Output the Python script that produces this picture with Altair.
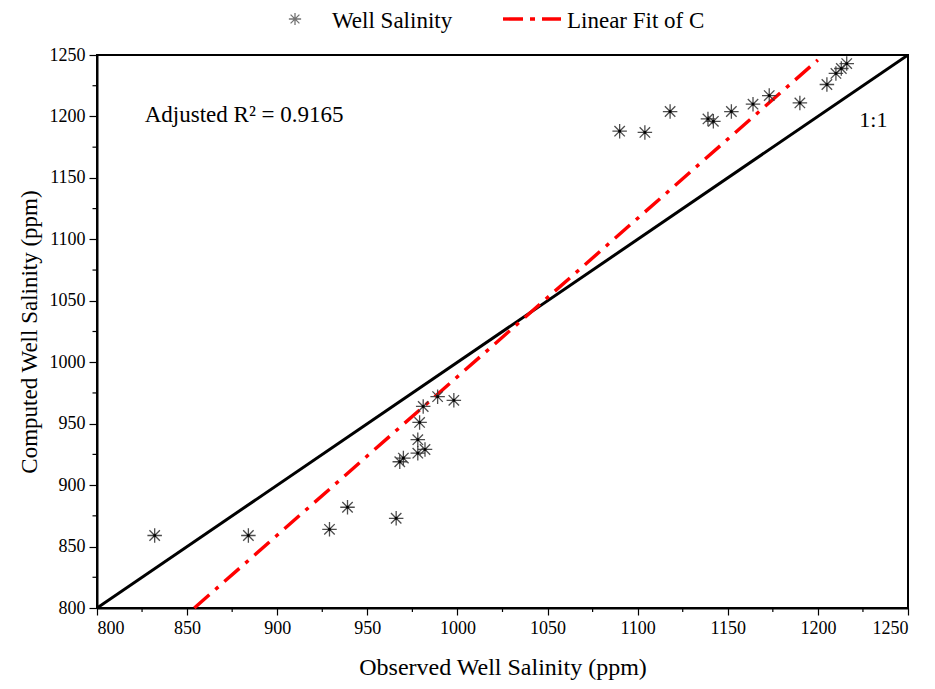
import altair as alt
import pandas as pd

# Observed vs computed well salinity (ppm)
observed = [832, 884, 929, 939, 966, 968, 970, 978, 982, 978, 979, 981, 989, 998,
            1090, 1104, 1118, 1139, 1142, 1152, 1164, 1173, 1190, 1205, 1210, 1213, 1216]
computed = [859, 859, 864, 882, 873, 919, 922, 926, 929, 937, 951, 964, 972, 969,
            1188, 1187, 1204, 1198, 1196, 1204, 1210, 1217, 1211, 1226, 1235, 1239, 1243]

one_x = [800, 1250]
one_y = [800, 1250]
fit_x = [854, 1200]
fit_y = [800, 1246]

major_ticks = [800, 850, 900, 950, 1000, 1050, 1100, 1150, 1200, 1250]
minor_ticks = [825, 875, 925, 975, 1025, 1075, 1125, 1175, 1225]

W, H = 811, 553
FONT = "Liberation Serif, Times New Roman, serif"
STAR = "M0,-1L0,1M-1,0L1,0M-0.72,-0.72L0.72,0.72M-0.72,0.72L0.72,-0.72"

pts = pd.DataFrame({"obs": observed, "comp": computed})
one = pd.DataFrame({"x": one_x, "y": one_y})
fit = pd.DataFrame({"x": fit_x, "y": fit_y})
minor = pd.DataFrame({"v": minor_ticks})

xs = alt.Scale(domain=[800, 1250], nice=False, zero=False)
ys = alt.Scale(domain=[800, 1250], nice=False, zero=False)

xaxis = alt.Axis(title="Observed Well Salinity (ppm)", values=major_ticks, grid=False,
                 format="d", tickSize=7, labelPadding=4, titlePadding=18,
                 labelFont=FONT, labelFontSize=18, titleFont=FONT, titleFontSize=24)
yaxis = alt.Axis(title="Computed Well Salinity (ppm)", values=major_ticks, grid=False,
                 format="d", tickSize=8, labelPadding=4, titlePadding=8,
                 labelFont=FONT, labelFontSize=18, titleFont=FONT, titleFontSize=23)

line11 = alt.Chart(one).mark_line(color="black", strokeWidth=3, clip=True).encode(
    x=alt.X("x:Q", scale=xs, axis=xaxis),
    y=alt.Y("y:Q", scale=ys, axis=yaxis),
)

fitline = alt.Chart(fit).mark_line(color="#ff0000", strokeWidth=3.4,
                                   strokeDash=[20, 8, 4, 8]).encode(
    x=alt.X("x:Q", scale=xs), y=alt.Y("y:Q", scale=ys)
)

stars = alt.Chart(pts).mark_point(shape=STAR, size=210, stroke="#3a3a3a",
                                  strokeWidth=1.3, filled=False, opacity=0.9).encode(
    x=alt.X("obs:Q", scale=xs), y=alt.Y("comp:Q", scale=ys)
)
centers = alt.Chart(pts).mark_point(shape="square", size=7, filled=True,
                                    color="black", opacity=1).encode(
    x=alt.X("obs:Q", scale=xs), y=alt.Y("comp:Q", scale=ys)
)

minor_x = alt.Chart(minor).mark_rule(color="black", strokeWidth=1.2).encode(
    x=alt.X("v:Q", scale=xs), y=alt.value(H), y2=alt.value(H + 4)
)
minor_y = alt.Chart(minor).mark_rule(color="black", strokeWidth=1.2).encode(
    y=alt.Y("v:Q", scale=ys), x=alt.value(0), x2=alt.value(-4.5)
)

ann = pd.DataFrame({"x": [826.5, 1223], "y": [1201, 1197],
                    "t": ["Adjusted R² = 0.9165", "1:1"], "fs": [23, 22]})
annot = alt.Chart(ann).mark_text(font=FONT, align="left", baseline="middle",
                                 color="black").encode(
    x=alt.X("x:Q", scale=xs), y=alt.Y("y:Q", scale=ys), text="t:N",
    size=alt.Size("fs:Q", scale=None, legend=None)
)

# Legend (above plot)
leg = pd.DataFrame({"lbl": ["Well Salinity", "Linear Fit of C"], "px": [235, 470]})
leg_text = alt.Chart(leg).mark_text(font=FONT, fontSize=23, align="left", baseline="middle",
                                    color="black").encode(
    x=alt.X("px:Q", scale=None), y=alt.value(-34), text="lbl:N"
)
leg_star = alt.Chart(leg.iloc[:1]).mark_point(shape=STAR, size=150, stroke="#3a3a3a",
                                               strokeWidth=1.3).encode(
    x=alt.value(198), y=alt.value(-36)
)
leg_line = alt.Chart(leg.iloc[1:]).mark_rule(color="#ff0000", strokeWidth=3.4,
                                              strokeDash=[20, 7, 5, 7]).encode(
    x=alt.value(406), x2=alt.value(464), y=alt.value(-36)
)

chart = alt.layer(line11, fitline, stars, centers, minor_x, minor_y, annot,
                  leg_text, leg_star, leg_line).properties(
    width=W, height=H,
    autosize=alt.AutoSizeParams(type="none"),
    padding={"left": 89, "top": 47, "right": 19, "bottom": 80},
).configure(font=FONT).configure_view(stroke="black", strokeWidth=2).configure_axis(
    domainColor="black", domainWidth=2, tickColor="black", tickWidth=1.2,
    labelColor="black", titleFontWeight="normal", titleColor="black",
)

chart.save("out.html", embed_options={"renderer": "svg", "actions": False})
